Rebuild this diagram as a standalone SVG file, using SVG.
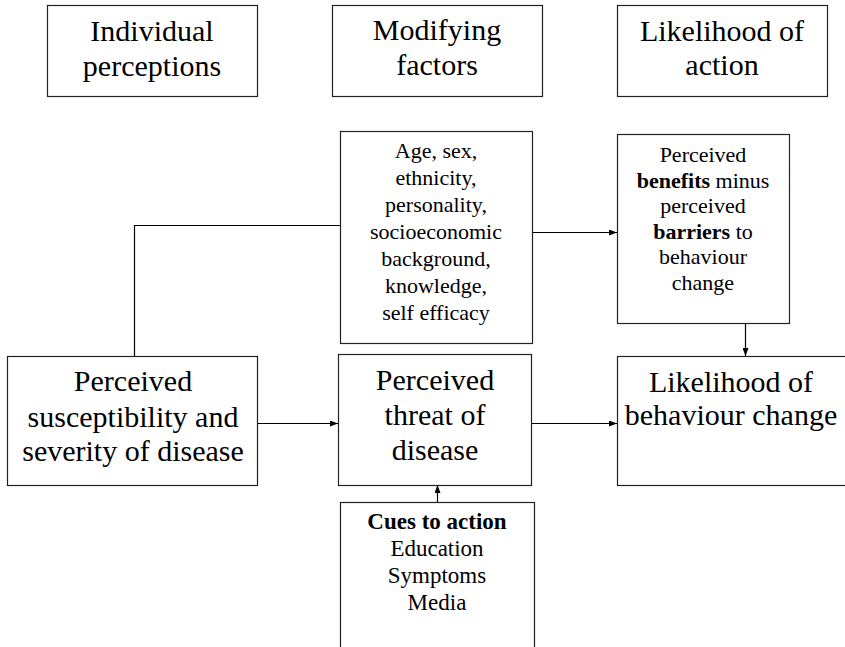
<svg xmlns="http://www.w3.org/2000/svg" width="845" height="647" viewBox="0 0 845 647">
<style>
.box{fill:#fff;stroke:#222;stroke-width:1.2}
.t{font-family:'Liberation Serif', 'Times New Roman', serif;fill:#000;text-anchor:middle}
.big{font-size:30px}
.sm{font-size:22px}
.cue{font-size:23px}
.b{font-weight:bold}
.c{fill:none;stroke:#000;stroke-width:1.2}
</style>
<defs>
<marker id="ah" viewBox="0 0 8 6" refX="8" refY="3" markerWidth="8" markerHeight="6" markerUnits="userSpaceOnUse" orient="auto">
<path d="M0,0 L8,3 L0,6 Z" fill="#000"/>
</marker>
</defs>
<rect width="845" height="647" fill="#fff"/>
<g id="hdr-individual">
<rect class="box" x="47.5" y="5.5" width="210" height="91"/>
<text class="t big" x="152" y="41">Individual</text>
<text class="t big" x="152" y="76">perceptions</text>
</g>
<g id="hdr-modifying">
<rect class="box" x="332.5" y="5.5" width="210" height="91"/>
<text class="t big" x="437" y="40">Modifying</text>
<text class="t big" x="437" y="75">factors</text>
</g>
<g id="hdr-likelihood">
<rect class="box" x="617.5" y="5.5" width="210" height="91"/>
<text class="t big" x="722" y="41">Likelihood of</text>
<text class="t big" x="722" y="75">action</text>
</g>
<g id="modifying-factors">
<rect class="box" x="340.5" y="131.5" width="192" height="212"/>
<text class="t sm" x="436" y="158">Age, sex,</text>
<text class="t sm" x="436" y="185">ethnicity,</text>
<text class="t sm" x="436" y="212">personality,</text>
<text class="t sm" x="436" y="239">socioeconomic</text>
<text class="t sm" x="436" y="266">background,</text>
<text class="t sm" x="436" y="293">knowledge,</text>
<text class="t sm" x="436" y="320">self efficacy</text>
</g>
<g id="benefits-barriers">
<rect class="box" x="617.5" y="134.5" width="172" height="189"/>
<text class="t sm" x="703" y="162">Perceived</text>
<text class="t sm" x="703" y="187.5"><tspan class="b">benefits</tspan> minus</text>
<text class="t sm" x="703" y="213">perceived</text>
<text class="t sm" x="703" y="238.5"><tspan class="b">barriers</tspan> to</text>
<text class="t sm" x="703" y="264">behaviour</text>
<text class="t sm" x="703" y="289.5">change</text>
</g>
<g id="susceptibility">
<rect class="box" x="7.5" y="356.5" width="250" height="129"/>
<text class="t big" x="133" y="391">Perceived</text>
<text class="t big" x="133" y="427">susceptibility and</text>
<text class="t big" x="133" y="461">severity of disease</text>
</g>
<g id="threat">
<rect class="box" x="338.5" y="354.5" width="193" height="131"/>
<text class="t big" x="435" y="390">Perceived</text>
<text class="t big" x="435" y="425">threat of</text>
<text class="t big" x="435" y="460">disease</text>
</g>
<g id="likelihood-change">
<rect class="box" x="617.5" y="356.5" width="240" height="129"/>
<text class="t big" x="731" y="392">Likelihood of</text>
<text class="t big" x="731" y="425">behaviour change</text>
</g>
<g id="cues">
<rect class="box" x="340.5" y="502.5" width="194" height="160"/>
<text class="t cue b" x="437" y="529">Cues to action</text>
<text class="t cue" x="437" y="556">Education</text>
<text class="t cue" x="437" y="583">Symptoms</text>
<text class="t cue" x="437" y="610">Media</text>
</g>
<g id="connectors">
<path class="c" d="M134.5,356 V225.5 H340"/>
<path class="c" d="M533,232.5 H617" marker-end="url(#ah)"/>
<path class="c" d="M745.5,324 V356" marker-end="url(#ah)"/>
<path class="c" d="M258,423.5 H338" marker-end="url(#ah)"/>
<path class="c" d="M532,423.5 H617" marker-end="url(#ah)"/>
<path class="c" d="M437.5,502 V485" marker-end="url(#ah)"/>
</g>
</svg>
